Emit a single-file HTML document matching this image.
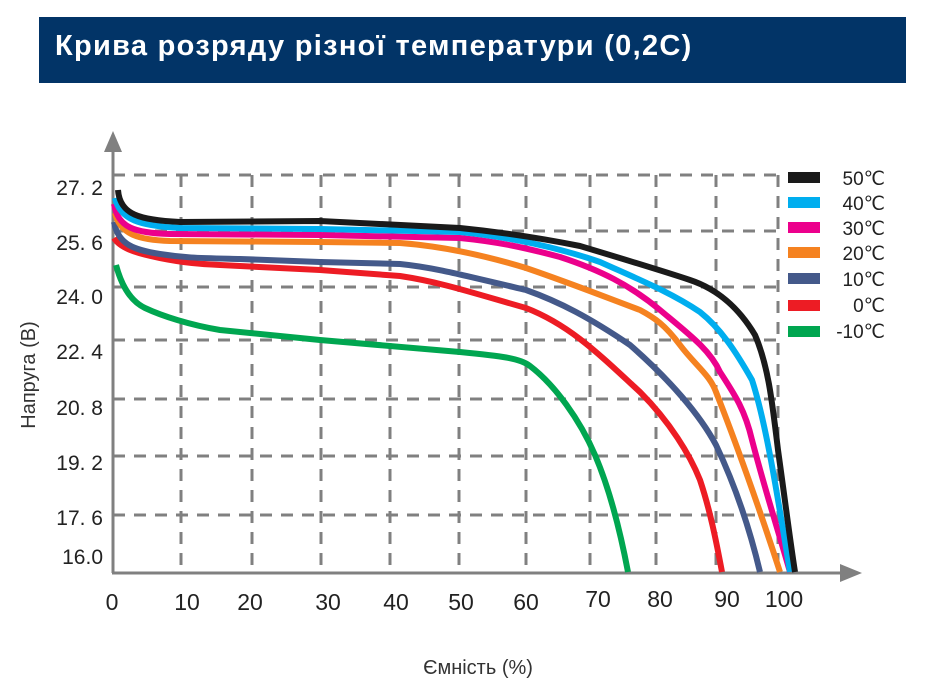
<!DOCTYPE html>
<html><head><meta charset="utf-8"><style>
html,body{margin:0;padding:0;background:#fff;}
body{width:938px;height:688px;position:relative;overflow:hidden;font-family:"Liberation Sans",sans-serif;}
.bar{position:absolute;left:39px;top:17px;width:867px;height:66px;background:#023467;}
.bar span{position:absolute;left:16px;top:13px;color:#fff;font-weight:bold;font-size:29px;letter-spacing:1.3px;}
</style></head><body>
<div class="bar"><span>Крива розряду різної температури (0,2С)</span></div>
<svg width="938" height="688" style="position:absolute;left:0;top:0" font-family="Liberation Sans, sans-serif">
<g stroke="#808080" stroke-width="3" stroke-dasharray="12,9" fill="none">
<line x1="113" y1="175" x2="780" y2="175"/>
<line x1="113" y1="231" x2="780" y2="231"/>
<line x1="113" y1="287" x2="780" y2="287"/>
<line x1="113" y1="340" x2="780" y2="340"/>
<line x1="113" y1="399" x2="780" y2="399"/>
<line x1="113" y1="456" x2="780" y2="456"/>
<line x1="113" y1="515" x2="780" y2="515"/>
<line x1="181" y1="175" x2="181" y2="572"/>
<line x1="252" y1="175" x2="252" y2="572"/>
<line x1="321" y1="175" x2="321" y2="572"/>
<line x1="390" y1="175" x2="390" y2="572"/>
<line x1="459" y1="175" x2="459" y2="572"/>
<line x1="526" y1="175" x2="526" y2="572"/>
<line x1="590" y1="175" x2="590" y2="572"/>
<line x1="656" y1="175" x2="656" y2="572"/>
<line x1="716" y1="175" x2="716" y2="572"/>
<line x1="778" y1="175" x2="778" y2="572"/>
</g>
<g stroke="#808080" stroke-width="3">
<line x1="113" y1="145" x2="113" y2="573"/>
<line x1="112" y1="573" x2="845" y2="573"/>
</g>
<polygon points="113,131 104,152 122,152" fill="#808080"/>
<polygon points="862,573 840,564 840,582" fill="#808080"/>
<g fill="none" stroke-width="6" stroke-linejoin="round" stroke-linecap="butt">
<path stroke="#00a650" d="M116,265 C120,280 128,300 145,308 S190,325 220,330 L320,340 L460,352 C500,356 520,358 530,366 C555,385 580,420 595,455 C610,490 620,530 628,572"/>
<path stroke="#ed1c24" d="M114,238 C120,248 135,253 160,258 S200,264 220,265 L320,270 L400,276 C440,282 470,292 526,308 C570,325 600,355 640,392 C670,422 690,455 700,480 C710,510 716,540 722,572"/>
<path stroke="#44598a" d="M114,222 C118,245 135,250 160,254 S200,258 240,259 L320,262 L400,264 C430,267 450,272 526,290 C560,302 590,318 630,345 C670,380 700,415 716,445 C735,485 750,530 760,572"/>
<path stroke="#f58220" d="M115,213 C120,235 140,240 170,241 L320,242 L400,243 C440,246 480,254 526,268 C570,283 600,295 640,310 C655,318 665,325 680,345 C695,365 710,375 716,392 C735,440 760,510 780,572"/>
<path stroke="#ec008c" d="M114,204 C118,228 135,233 170,234 L320,235 L460,238 C500,242 526,248 560,257 C600,270 630,285 660,310 C690,335 710,350 720,372 C735,395 745,410 752,440 C765,490 778,530 790,572"/>
<path stroke="#00aeef" d="M115,198 C120,220 140,226 180,228 L320,229 L460,232 C510,237 560,248 600,262 C640,280 670,292 700,312 C720,328 735,350 752,380 C765,420 775,480 790,572"/>
<path stroke="#1a1a1a" d="M118,190 C120,215 140,220 180,222 L320,221 L460,228 C500,232 540,238 580,246 C620,258 660,270 690,280 C720,290 740,310 755,335 C768,365 772,400 778,450 C785,500 790,540 795,572"/>
</g>
<g fill="#222" font-size="21">
<text x="103" y="195" text-anchor="end">27. 2</text>
<text x="103" y="250" text-anchor="end">25. 6</text>
<text x="103" y="304" text-anchor="end">24. 0</text>
<text x="103" y="359" text-anchor="end">22. 4</text>
<text x="103" y="415" text-anchor="end">20. 8</text>
<text x="103" y="470" text-anchor="end">19. 2</text>
<text x="103" y="525" text-anchor="end">17. 6</text>
<text x="103" y="564" text-anchor="end">16.0</text>
</g>
<g fill="#222" font-size="23" text-anchor="middle">
<text x="112" y="610">0</text>
<text x="187" y="610">10</text>
<text x="250" y="610">20</text>
<text x="328" y="610">30</text>
<text x="396" y="610">40</text>
<text x="461" y="610">50</text>
<text x="526" y="610">60</text>
<text x="598" y="607">70</text>
<text x="660" y="607">80</text>
<text x="727" y="607">90</text>
<text x="784" y="607">100</text>
</g>
<text x="478" y="674" font-size="20" fill="#333" text-anchor="middle">Ємність (%)</text>
<text transform="translate(35,375) rotate(-90)" font-size="20" fill="#333" text-anchor="middle">Напруга (В)</text>
<g>
<rect x="788" y="172" width="32" height="11" fill="#1a1a1a"/>
<rect x="788" y="197" width="32" height="11" fill="#00aeef"/>
<rect x="788" y="222" width="32" height="11" fill="#ec008c"/>
<rect x="788" y="247" width="32" height="11" fill="#f58220"/>
<rect x="788" y="273" width="32" height="11" fill="#44598a"/>
<rect x="788" y="300" width="32" height="11" fill="#ed1c24"/>
<rect x="788" y="326" width="32" height="11" fill="#00a650"/>
</g>
<g fill="#222" font-size="19" text-anchor="end">
<text x="885" y="185">50℃</text>
<text x="885" y="210">40℃</text>
<text x="885" y="235">30℃</text>
<text x="885" y="260">20℃</text>
<text x="885" y="286">10℃</text>
<text x="885" y="312">0℃</text>
<text x="885" y="338">-10℃</text>
</g>
</svg>
</body></html>
